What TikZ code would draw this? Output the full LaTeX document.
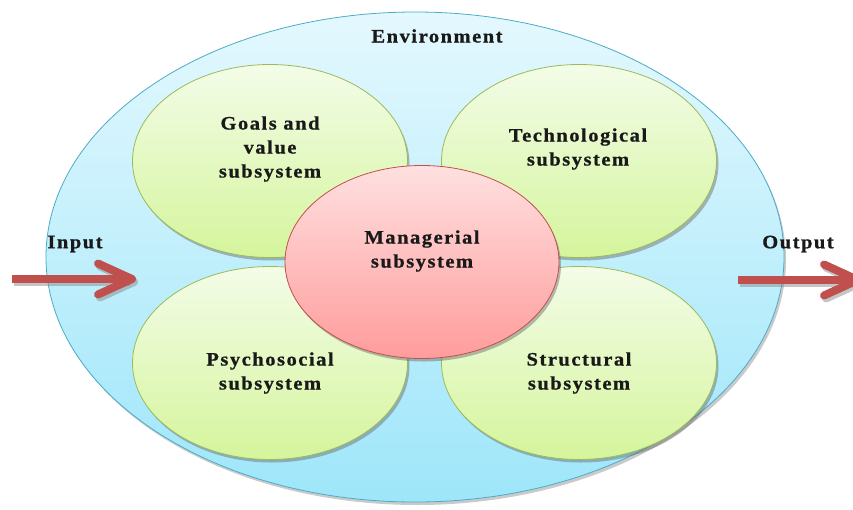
\documentclass[tikz,border=0pt]{standalone}
\usepackage{fontspec}
\setmainfont{Liberation Serif}
\newfontfamily\labfont[LetterSpace=8,FakeStretch=1.08,BoldFeatures={FakeBold=0.8}]{Liberation Serif}
\usetikzlibrary{shapes.geometric,shadows,arrows.meta}
\definecolor{envtop}{HTML}{E4F8FE}
\definecolor{envbot}{HTML}{9EE6FA}
\definecolor{envline}{HTML}{4BACC6}
\definecolor{grtop}{HTML}{F3FCE8}
\definecolor{grbot}{HTML}{D5F59C}
\definecolor{grline}{HTML}{9BBB59}
\definecolor{rdtop}{HTML}{FFE0E0}
\definecolor{rdbot}{HTML}{FF9C9C}
\definecolor{rdline}{HTML}{C0504D}
\definecolor{arrred}{HTML}{C0504D}
\tikzset{
  sub/.style={ellipse, draw=grline, line width=0.8pt, top color=grtop, bottom color=grbot,
    minimum width=275pt, minimum height=193pt, inner sep=0pt,
    drop shadow={shadow xshift=2pt, shadow yshift=-3pt, opacity=0.45, fill=black!60}},
  mgr/.style={ellipse, draw=rdline, line width=0.8pt, top color=rdtop, bottom color=rdbot,
    minimum width=274pt, minimum height=193pt, inner sep=0pt,
    drop shadow={shadow xshift=2pt, shadow yshift=-3pt, opacity=0.45, fill=black!60}},
  env/.style={ellipse, draw=envline, line width=0.8pt, top color=envtop, bottom color=envbot,
    minimum width=738pt, minimum height=490pt, inner sep=0pt,
    drop shadow={shadow xshift=2pt, shadow yshift=-3pt, opacity=0.35, fill=black!60}},
  lab/.style={align=center, inner sep=0pt, text=black!90,
    font=\fontsize{19}{24}\selectfont\labfont\bfseries},
  bigarrow/.style={line width=8pt, draw=arrred,
    -{Straight Barb[length=34pt,width=31pt,round]}},
  arrshadow/.style={line width=8pt, draw=black!45, opacity=0.5,
    -{Straight Barb[length=34pt,width=31pt,round]}}
}
\begin{document}
\begin{tikzpicture}[x=1pt,y=-1pt]
\useasboundingbox (0,0) rectangle (853,509);
\node[env] (envir) at (415,257) {};
\node[sub] (goals) at (270,161) {};
\node[sub] (tech) at (579,161) {};
\node[sub] (psych) at (270,363) {};
\node[sub] (struct) at (579,363) {};
\node[mgr] (manag) at (422,262) {};

\node[lab] (tenv) at (437,36) {Environment};
\node[lab] (tgoals) at (270,149) {Goals and\\value\\subsystem};
\node[lab] (ttech) at (578,149) {Technological\\subsystem};
\node[lab] (tmanag) at (422,251) {Managerial\\subsystem};
\node[lab] (tpsych) at (270,373) {Psychosocial\\subsystem};
\node[lab] (tstruct) at (579,373) {Structural\\subsystem};
\node[lab] (tin) at (75,244) {Input};
\node[lab] (tout) at (798,244) {Output};

\coordinate (inS) at (12,279);
\coordinate (inE) at (136,279);
\coordinate (outS) at (738,280);
\coordinate (outE) at (862,280);
\coordinate (inSs) at (14,282);
\coordinate (inEs) at (138,282);
\coordinate (outSs) at (740,283);
\coordinate (outEs) at (864,283);
\draw[arrshadow] (inSs) -- (inEs);
\draw[arrshadow] (outSs) -- (outEs);
\draw[bigarrow] (inS) -- (inE);
\draw[bigarrow] (outS) -- (outE);
\end{tikzpicture}
\end{document}
